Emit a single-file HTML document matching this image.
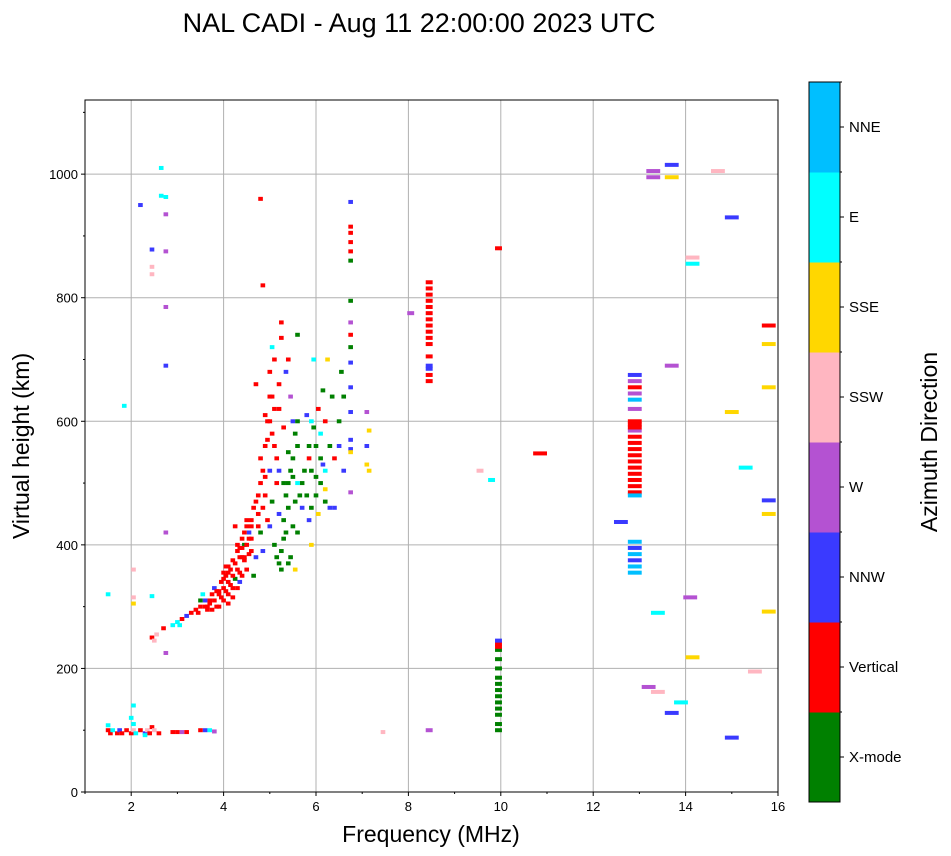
<!DOCTYPE html>
<html><head><meta charset="utf-8">
<style>
html,body{margin:0;padding:0;background:#fff;}
svg{display:block;font-family:"Liberation Sans",sans-serif;}
</style></head>
<body>
<svg id="chart" width="951" height="856" viewBox="0 0 951 856" xmlns="http://www.w3.org/2000/svg">
<text x="419" y="32" font-size="27" text-anchor="middle">NAL CADI - Aug 11 22:00:00 2023 UTC</text>
<g id="grid"></g>
<g id="marks"></g>
<rect x="85" y="100" width="693" height="692" fill="none" stroke="#000" stroke-width="1"/>
<g id="axes"></g>
<text x="431" y="842" font-size="23" text-anchor="middle">Frequency (MHz)</text>
<text transform="translate(29,446) rotate(-90)" font-size="23" text-anchor="middle">Virtual height (km)</text>
<g id="colorbar"></g>
<text transform="translate(937,442) rotate(-90)" font-size="23" text-anchor="middle">Azimuth Direction</text>
</svg>
<script>
const categories=["X-mode","Vertical","NNW","W","SSW","SSE","E","NNE"];
const catColors=["#008000","#ff0000","#3a3aff","#b452d2","#ffb6c1","#ffd700","#00ffff","#00bfff"];
const xTicks=[2,4,6,8,10,12,14,16];
const yTicks=[0,200,400,600,800,1000];
const freqs=[1.5,1.55,1.6,1.7,1.75,1.8,1.9,2.0,2.05,2.1,2.2,2.3,2.35,2.4,2.45,2.5,2.6,1.5,2.05,2.0,2.05,2.3,2.9,3.0,3.1,3.2,3.5,3.6,3.7,3.8,
1.5,2.05,2.05,2.05,2.45,1.85,2.2,2.45,2.45,2.45,2.65,2.65,2.75,2.75,2.75,2.75,2.75,2.75,2.75,
2.45,2.5,2.55,2.7,2.9,3.0,3.05,3.1,3.2,3.3,3.4,3.5,3.5,3.55,3.6,3.7,3.75,3.8,3.85,3.9,3.95,4.0,4.0,4.05,4.1,4.1,4.15,4.2,4.2,4.25,4.3,4.3,4.35,4.4,4.4,4.45,4.5,4.5,4.55,4.6,4.6,4.65,4.7,4.7,4.75,4.8,4.8,4.85,4.85,4.9,4.9,4.95,4.95,5.0,5.0,5.0,5.05,5.05,5.1,5.1,5.1,5.15,5.15,5.2,5.2,5.25,5.25,5.3,5.3,5.35,5.35,5.4,5.4,5.45,5.45,5.5,5.5,5.55,5.55,5.6,5.6,5.6,5.7,5.7,5.8,5.85,5.85,5.9,5.9,5.9,5.95,6.0,6.0,6.05,6.05,6.1,6.1,6.15,6.15,6.2,6.2,6.25,6.3,6.3,6.35,6.4,6.5,6.5,6.55,6.6,6.6,
3.9,3.7,4.1,4.3,4.45,4.55,4.25,3.65,3.45,4.0,4.35,4.9,4.7,5.05,5.25,5.4,4.8,4.85,
6.75,6.75,6.75,6.75,6.75,6.75,6.75,6.75,6.75,6.75,6.75,6.75,6.75,6.75,6.75,6.75,6.75,
7.1,7.1,7.1,7.15,7.15,8.05,
8.45,8.45,8.45,8.45,8.45,8.45,8.45,8.45,8.45,8.45,8.45,8.45,8.45,8.45,8.45,8.45,
8.45,7.45,9.55,9.8,
9.95,9.95,9.95,9.95,9.95,9.95,9.95,9.95,9.95,9.95,9.95,9.95,9.95,9.95,9.95,10.85,9.95,
12.9,12.9,12.9,12.9,12.9,12.9,12.9,12.9,12.9,12.9,12.9,12.9,12.9,12.9,12.9,12.9,12.9,12.9,12.9,12.9,12.9,12.9,12.9,12.9,12.9,12.9,12.9,
12.6,13.2,13.4,13.4,13.3,13.3,13.7,13.7,13.7,13.7,13.9,14.1,14.15,14.15,14.15,14.7,15.0,15.0,15.0,15.3,15.5,15.8,15.8,15.8,15.8,15.8,15.8,
3.8,3.85,3.9,3.95,4.0,4.05,4.05,4.1,4.1,4.15,4.2,4.2,4.25,4.3,4.35,4.35,4.4,4.4,4.45,4.45,4.5,4.5,4.55,4.6,4.6,4.65,4.75,4.8,4.9,4.95,5.0,5.05,5.1,5.15,5.2,4.85,4.75,3.65,3.75,3.6,
5.2,5.25,5.3,5.3,5.35,5.4,5.45,5.5,5.4,5.5,5.55,5.6,5.65,5.75,5.85,5.9,6.0,6.1,5.95,6.2,
5.0,5.2,5.6,5.8,6.2,6.4];
const heights=[100,95,100,95,100,95,100,95,100,95,100,95,100,95,105,100,95,108,110,120,140,92,97,97,97,97,100,100,100,98,
320,315,360,305,317,625,950,878,850,838,1010,965,963,935,875,785,690,420,225,
250,245,255,265,270,275,270,280,285,290,295,300,310,320,300,310,320,330,300,320,340,310,330,350,320,340,360,330,375,345,360,390,340,380,410,400,360,430,420,440,390,350,380,470,450,500,420,520,390,480,560,440,600,520,640,680,580,470,620,700,400,540,380,660,450,760,360,500,590,420,680,460,550,380,640,510,600,360,470,420,560,740,460,500,480,540,440,520,600,400,700,480,560,450,620,500,580,530,650,600,490,700,460,560,640,540,560,600,680,640,520,
325,305,365,400,380,410,430,295,290,355,395,610,660,720,735,700,960,820,
555,570,615,655,695,720,740,760,795,860,875,890,905,915,955,485,550,
530,560,615,520,585,775,
665,675,685,690,705,725,735,745,755,765,775,785,795,805,815,825,
100,97,520,505,
100,110,125,135,145,155,165,175,185,200,215,230,240,235,245,548,880,
355,365,375,385,395,405,485,495,505,515,525,535,545,555,565,575,585,595,635,645,655,665,675,600,480,620,590,
437,170,290,162,995,1005,1015,995,690,128,145,315,865,855,218,1005,930,615,88,525,195,755,725,655,472,450,292,
310,325,300,315,345,325,365,355,305,335,350,315,370,330,380,355,395,350,420,375,440,400,385,410,430,460,480,540,510,570,600,640,560,500,620,460,430,300,295,310,
370,390,410,440,480,500,520,540,370,430,580,600,480,520,560,460,510,540,590,470,
430,520,500,610,520,460];
const dirs=[1,1,6,1,2,1,1,1,4,6,1,2,4,1,1,4,1,6,6,6,6,6,1,1,3,1,1,2,6,3,
6,4,4,5,6,6,2,2,4,4,6,6,6,3,3,3,2,3,3,
1,4,4,1,6,6,6,1,2,1,1,1,0,6,1,1,1,2,1,1,1,1,1,1,1,1,1,1,1,0,1,1,2,1,1,0,1,1,2,1,1,0,2,1,1,1,0,1,2,1,1,1,1,2,1,1,1,0,1,1,0,1,0,1,2,1,0,0,1,0,2,0,0,0,3,0,2,5,0,0,0,0,2,0,0,1,2,0,6,5,6,0,0,5,1,0,6,2,0,1,5,5,2,0,0,1,2,0,0,0,2,
1,1,1,1,1,1,1,1,1,1,1,1,1,6,1,1,1,1,
2,2,2,2,2,0,1,3,0,0,1,1,1,1,2,3,5,
5,2,3,5,5,3,
1,1,2,2,1,1,1,1,1,1,1,1,1,1,1,1,
3,4,4,6,
0,0,0,0,0,0,0,0,0,0,0,0,1,1,2,1,1,
7,7,2,7,2,7,1,1,1,1,1,1,1,1,1,1,3,1,7,3,1,3,2,1,7,3,1,
2,3,6,4,3,3,2,5,3,2,6,3,4,6,5,4,2,5,2,6,4,1,5,5,2,5,5,
1,1,1,1,1,1,1,1,1,1,1,1,1,1,1,1,1,1,1,1,1,1,1,1,1,1,1,1,1,1,1,1,1,1,1,1,1,1,1,2,
0,0,0,0,0,0,0,0,0,0,0,0,0,0,0,0,0,0,0,0,
2,2,6,2,6,2];

const NS="http://www.w3.org/2000/svg";
const X0=85,X1=778,Y0=792,Y1=100;
function xs(f){return X0+(f-1)/15*(X1-X0);}
function ys(h){return Y0-h/1120*(Y0-Y1);}
function mk(tag,attrs,parent){const e=document.createElementNS(NS,tag);for(const k in attrs)e.setAttribute(k,attrs[k]);parent.appendChild(e);return e;}
const grid=document.getElementById('grid'),axes=document.getElementById('axes'),marks=document.getElementById('marks'),cb=document.getElementById('colorbar');
xTicks.forEach(t=>{
  const gl=mk('line',{x1:xs(t),x2:xs(t),y1:Y1,y2:Y0,stroke:'#b0b0b0','stroke-width':1},grid);
  
  
  mk('line',{x1:xs(t),x2:xs(t),y1:Y0,y2:Y0+4,stroke:'#000'},axes);
  const tx=mk('text',{x:xs(t),y:Y0+19,'font-size':13,'text-anchor':'middle'},axes);
  tx.textContent=t;
  
  
});
for(let m=1;m<=15;m+=2){mk('line',{x1:xs(m),x2:xs(m),y1:Y0,y2:Y0+2,stroke:'#000'},axes);}
yTicks.forEach(t=>{
  const gl=mk('line',{x1:X0,x2:X1,y1:ys(t),y2:ys(t),stroke:'#b0b0b0','stroke-width':1},grid);
  
  
  mk('line',{x1:X0-4,x2:X0,y1:ys(t),y2:ys(t),stroke:'#000'},axes);
  const tx=mk('text',{x:X0-7,y:ys(t)+5,'font-size':13,'text-anchor':'end'},axes);
  tx.textContent=t;
  
  
});
for(let m=100;m<=1100;m+=200){mk('line',{x1:X0-2,x2:X0,y1:ys(m),y2:ys(m),stroke:'#000'},axes);}
for(let i=0;i<freqs.length;i++){
  const f=freqs[i];
  const w=f>10.5?0.3:(f>8?0.15:0.1);
  const r=mk('rect',{x:xs(f-w/2),y:ys(heights[i])-2,width:w/15*(X1-X0),height:4,fill:catColors[dirs[i]]},marks);
  
  
}
const CBX=809,CBW=31,CBT=82,CBB=802,ch=(CBB-CBT)/categories.length;
categories.forEach((c,i)=>{
  const yTop=CBB-(i+1)*ch;
  const r=mk('rect',{x:CBX,y:yTop,width:CBW,height:ch+0.5,fill:catColors[i]},cb);
  
  
  mk('line',{x1:CBX+CBW,x2:CBX+CBW+4,y1:yTop+ch/2,y2:yTop+ch/2,stroke:'#000'},cb);
  mk('line',{x1:CBX+CBW,x2:CBX+CBW+2,y1:yTop,y2:yTop,stroke:'#000'},cb);
  const t=mk('text',{x:CBX+CBW+9,y:yTop+ch/2+5,'font-size':15},cb);
  t.textContent=c;
  
  
});
const fr=mk('rect',{x:CBX,y:CBT,width:CBW,height:CBB-CBT,fill:'none',stroke:'#000'},cb);


</script>
</body></html>
